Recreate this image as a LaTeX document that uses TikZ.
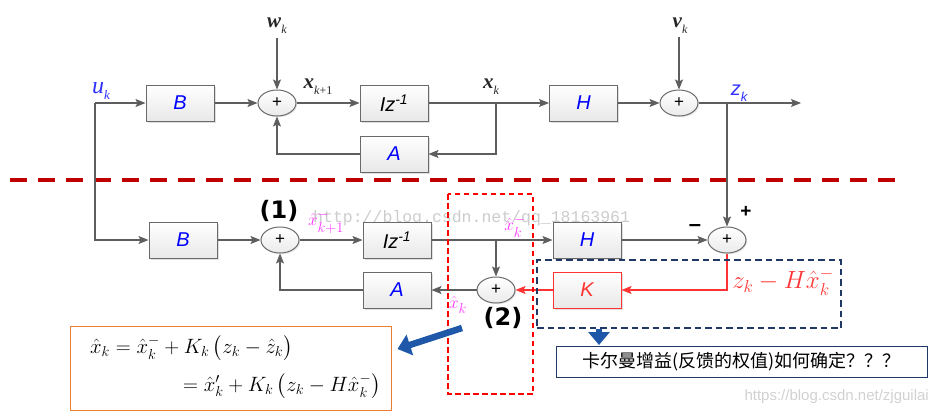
\documentclass[tikz,border=0pt]{standalone}
\usepackage{fontspec}
\usepackage{amsmath}
\usepackage{graphicx}
\usetikzlibrary{arrows.meta,shapes.geometric,shadows}
\setmainfont{Liberation Serif}
\setsansfont{Liberation Sans}
\newfontfamily\cjk{Noto Sans CJK SC}
\newfontfamily\boldsans{DejaVu Sans}
\newfontfamily\wmmono{Liberation Mono}
\newcommand\vsub[2]{\textbf{\textit{#1}}\raisebox{-0.28em}{\fontsize{12}{12}\selectfont #2}}
\definecolor{lnc}{HTML}{5E5E5E}
\definecolor{boxc}{HTML}{6A6A6A}
\definecolor{darkred}{HTML}{C00000}
\definecolor{navy}{HTML}{1F3864}
\definecolor{mag}{HTML}{FF33FF}
\definecolor{kred}{HTML}{FF3333}
\definecolor{bluearr}{HTML}{1F58A8}
\definecolor{orangec}{HTML}{ED7D31}
\definecolor{ublue}{HTML}{3030FF}
\tikzset{
  blk/.style={draw=boxc, line width=1pt, top color=white, bottom color=black!9,
    minimum width=68pt, minimum height=36pt, inner sep=0pt,
    font=\sffamily\itshape\fontsize{20}{20}\selectfont, text=blue,
    drop shadow={opacity=0.25, shadow xshift=1.5pt, shadow yshift=-1.5pt}},
  sumnode/.style={ellipse, draw=boxc, line width=1pt, top color=white, bottom color=black!8,
    minimum width=38pt, minimum height=26pt, inner sep=0pt,
    font=\sffamily\fontsize{17}{17}\selectfont,
    drop shadow={opacity=0.2, shadow xshift=1.2pt, shadow yshift=-1.2pt}},
  ln/.style={draw=lnc, line width=1.1pt},
  arr/.style={ln, -{Stealth[length=10pt,width=8pt,inset=2pt]}},
  redln/.style={draw=kred, line width=1.1pt},
  redarr/.style={redln, -{Stealth[length=10pt,width=8pt,inset=2pt]}},
  varlbl/.style={font=\fontsize{21}{21}\selectfont, inner sep=0pt, text=black!85},
  maglbl/.style={font=\fontsize{19}{19}\selectfont, text=mag, inner sep=0pt},
  numlbl/.style={font=\boldsans\bfseries\fontsize{24}{24}\selectfont, inner sep=0pt},
  bigarr/.style={draw=bluearr, line width=6.5pt, -{Triangle[length=13pt,width=21pt]}},
}
\begin{document}
\begin{tikzpicture}[x=1pt,y=-1pt]
\useasboundingbox (0,0) rectangle (937,415);

% watermarks
\node[font=\wmmono\fontsize{16.5}{16.5}\selectfont, text=black!20, anchor=west, inner sep=0pt] (wm1) at (313,218) {http://blog.csdn.net/qq\_18163961};
\node[font=\sffamily\fontsize{15}{15}\selectfont, text=black!18, anchor=east, inner sep=0pt] (wm2) at (929,397) {https://blog.csdn.net/zjguilai};

% ---------- top system ----------
\node[blk] (B1) at (180,103) {B};
\node[sumnode] (S1) at (277,103) {+};
\node[blk, text=black] (D1) at (394,103) {Iz\textsuperscript{-1}};
\node[blk] (A1) at (394,154) {A};
\node[blk] (H1) at (583.5,103) {H};
\node[sumnode] (S2) at (679,103) {+};

\node[varlbl, text=ublue, font=\fontsize{24}{24}\selectfont] (ukl) at (101,91) {\textit{u}\raisebox{-0.28em}{\fontsize{13}{13}\selectfont\textit{k}}};
\node[varlbl] (wk) at (277,26) {\vsub{w}{\textit{k}}};
\node[varlbl] (vk) at (680,26) {\vsub{v}{\textit{k}}};
\node[varlbl] (xk1) at (318,87) {\vsub{x}{\textit{k}+1}};
\node[varlbl] (xkl) at (491,87) {\vsub{x}{\textit{k}}};
\node[varlbl, text=ublue, font=\sffamily\itshape\fontsize{20}{20}\selectfont] (zkl) at (739,93) {z\raisebox{-0.28em}{\fontsize{13}{13}\selectfont k}};

\coordinate (uk) at (95,103);
\coordinate (xkb) at (496,103);
\coordinate (zkb) at (727,103);
\coordinate (zend) at (801,103);

\draw[arr] (uk) -- (B1.west);
\draw[arr] (B1.east) -- (S1.west);
\draw[arr] (277,38) -- (S1.north);
\draw[arr] (S1.east) -- (D1.west);
\draw[ln] (D1.east) -- (xkb);
\draw[arr] (xkb) -- (H1.west);
\draw[arr] (xkb) |- (A1.east);
\draw[arr] (A1.west) -| (S1.south);
\draw[arr] (H1.east) -- (S2.west);
\draw[arr] (679,37) -- (S2.north);
\draw[ln] (S2.east) -- (zkb);
\draw[arr] (zkb) -- (zend);

% separator
\draw[draw=darkred, line width=3.6pt, dash pattern=on 16.5pt off 11.5pt] (10,180) -- (895,180);

% ---------- bottom estimator ----------
\node[blk] (B2) at (183,240) {B};
\node[sumnode] (S3) at (280,240) {+};
\node[blk, text=black] (D2) at (397,240) {Iz\textsuperscript{-1}};
\node[blk] (A2) at (397,290) {A};
\node[blk] (H2) at (587,240) {H};
\node[sumnode] (S4) at (496,290) {+};
\node[sumnode] (S5) at (727,240) {+};
\node[blk, draw=kred, text=kred] (K) at (587,290) {K};

\node[numlbl] (n1) at (279,211) {(1)};
\node[numlbl] (n2) at (503,318) {(2)};
\node[maglbl] (xh1) at (326,222) {$\hat{x}^-_{k+1}$};
\node[maglbl] (xh2) at (515,226) {$\hat{x}^-_k$};
\node[maglbl] (xh3) at (458,305) {$\hat{x}_k$};
\node[font=\sffamily\bfseries\fontsize{22}{22}\selectfont, inner sep=0pt] (minus) at (695,228) {–};
\node[font=\sffamily\bfseries\fontsize{19}{19}\selectfont, inner sep=0pt] (plus) at (746,212) {+};
\node[text=kred, font=\fontsize{23}{23}\selectfont, inner sep=0pt] (res) at (783,282) {$z_k - H\hat{x}_k^-$};

\coordinate (xhb) at (496,240);
\draw[arr] (uk) |- (B2.west);
\draw[arr] (B2.east) -- (S3.west);
\draw[arr] (S3.east) -- (D2.west);
\draw[ln] (D2.east) -- (xhb);
\draw[arr] (xhb) -- (H2.west);
\draw[arr] (xhb) -- (S4.north);
\draw[arr] (S4.west) -- (A2.east);
\draw[arr] (A2.west) -| (S3.south);
\draw[arr] (H2.east) -- (S5.west);
\draw[arr] (zkb) -- (S5.north);
\draw[redarr] (S5.south) |- (K.east);
\draw[redarr] (K.west) -- (S4.east);

% dashed frames
\draw[draw=red, line width=1.6pt, dash pattern=on 5.5pt off 3.5pt] (448,194) rectangle (533,394);
\node[draw=navy, line width=1.6pt, dash pattern=on 6.5pt off 4pt, minimum width=304pt, minimum height=68pt, inner sep=0pt] (nb) at (689,294) {};

% question box
\node[draw=navy, line width=1pt, minimum width=371pt, minimum height=31pt, inner sep=0pt,
  font=\cjk\fontsize{18}{18}\selectfont] (q) at (741.5,362) {卡尔曼增益(反馈的权值)如何确定？？？};
\draw[bigarr] (nb.south -| 599,0) -- ([yshift=1pt]q.north -| 599,0);

% equation box
\node[draw=orangec, line width=1pt, minimum width=321pt, minimum height=84pt, inner sep=0pt] (eqbox) at (230.5,368) {};
\node[anchor=base west, inner sep=0pt, font=\fontsize{20}{20}\selectfont] (eq1) at (90,353) {$\hat{x}_k = \hat{x}_k^- + K_k\,\bigl(z_k - \hat{z}_k\bigr)$};
\node[anchor=base west, inner sep=0pt, font=\fontsize{20}{20}\selectfont] (eq2) at (183,391) {$= \hat{x}'_k + K_k\,\bigl(z_k - H\hat{x}_k^-\bigr)$};
\coordinate (da) at (462,328);
\draw[bigarr] (da) -- ([xshift=6pt]eqbox.east |- 0,349);
\end{tikzpicture}
\end{document}
